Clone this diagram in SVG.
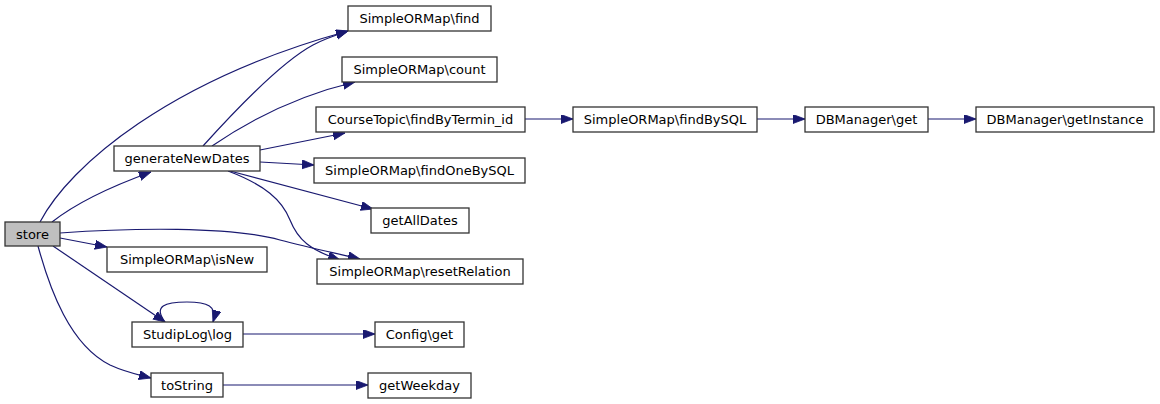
<svg xmlns="http://www.w3.org/2000/svg" width="1160" height="404" viewBox="0 0 1160 404">
<style>
.n rect{fill:#ffffff;stroke:#333333;stroke-width:1.3}
.n.cur rect{fill:#bfbfbf}
.n text{font-family:"DejaVu Sans",sans-serif;font-size:13px;fill:#000;text-anchor:middle}
.e path{fill:none;stroke:#191970;stroke-width:1.2;marker-end:url(#ah)}
</style>
<defs>
<marker id="ah" markerUnits="userSpaceOnUse" markerWidth="14" markerHeight="11" refX="12" refY="4.5" orient="auto">
<path d="M0,0 L12,4.5 L0,9 Z" fill="#191970" stroke="#191970" stroke-width="0.8"/>
</marker>
</defs>
<rect width="1160" height="404" fill="#ffffff"/>
<g id="connectors" class="e">
<path d="M40,222 C70,165 170,80 348,31"/>
<path d="M52,222 C80,200 115,185 151,172"/>
<path d="M60,233 C130,228 230,226 280,240 C310,248 335,253 360,259"/>
<path d="M60,238 L107,247"/>
<path d="M53,246 L165,322"/>
<path d="M38,246 C50,290 70,345 110,365 C125,372 135,374 151,378"/>
<path d="M203,146 C240,105 285,60 313,45 C322,40 330,37 348,31"/>
<path d="M212,146 C250,120 300,95 355,82"/>
<path d="M260,150 L345,133"/>
<path d="M260,162 L314,165"/>
<path d="M230,171 L373,209"/>
<path d="M228,171 C265,185 282,200 290,220 C298,240 310,250 340,260"/>
<path d="M165,322 C153,306 165,302 187,302 C207,302 218,306 213,322"/>
<path d="M243,334 L375,334"/>
<path d="M223,385 L368,385"/>
<path d="M525,119 L573,119"/>
<path d="M757,119 L805,119"/>
<path d="M928,119 L976,119"/>
</g>
<g id="store" class="n cur"><rect x="5" y="222" width="55" height="24"/><text x="32.5" y="238.5">store</text></g>
<g id="generateNewDates" class="n"><rect x="114" y="146" width="146" height="25"/><text x="187" y="163">generateNewDates</text></g>
<g id="isNew" class="n"><rect x="107" y="247" width="160" height="25"/><text x="187" y="264">SimpleORMap\isNew</text></g>
<g id="StudipLog_log" class="n"><rect x="132" y="322" width="111" height="25"/><text x="187.5" y="339">StudipLog\log</text></g>
<g id="toString" class="n"><rect x="151" y="373" width="72" height="24"/><text x="187" y="389.5">toString</text></g>
<g id="find" class="n"><rect x="348" y="6" width="143" height="25"/><text x="419.5" y="23">SimpleORMap\find</text></g>
<g id="count" class="n"><rect x="342" y="57" width="155" height="25"/><text x="419.5" y="74">SimpleORMap\count</text></g>
<g id="findByTermin_id" class="n"><rect x="316" y="107" width="209" height="25"/><text x="420.5" y="124">CourseTopic\findByTermin_id</text></g>
<g id="findOneBySQL" class="n"><rect x="314" y="158" width="211" height="25"/><text x="419.5" y="175">SimpleORMap\findOneBySQL</text></g>
<g id="getAllDates" class="n"><rect x="371" y="208" width="98" height="25"/><text x="420" y="225">getAllDates</text></g>
<g id="resetRelation" class="n"><rect x="317" y="259" width="206" height="25"/><text x="420" y="276">SimpleORMap\resetRelation</text></g>
<g id="Config_get" class="n"><rect x="375" y="322" width="89" height="25"/><text x="419.5" y="339">Config\get</text></g>
<g id="getWeekday" class="n"><rect x="368" y="373" width="103" height="25"/><text x="419.5" y="390">getWeekday</text></g>
<g id="findBySQL" class="n"><rect x="573" y="107" width="184" height="25"/><text x="665" y="124">SimpleORMap\findBySQL</text></g>
<g id="DBManager_get" class="n"><rect x="805" y="107" width="123" height="25"/><text x="866.5" y="124">DBManager\get</text></g>
<g id="getInstance" class="n"><rect x="976" y="107" width="178" height="25"/><text x="1065" y="124">DBManager\getInstance</text></g>
</svg>
